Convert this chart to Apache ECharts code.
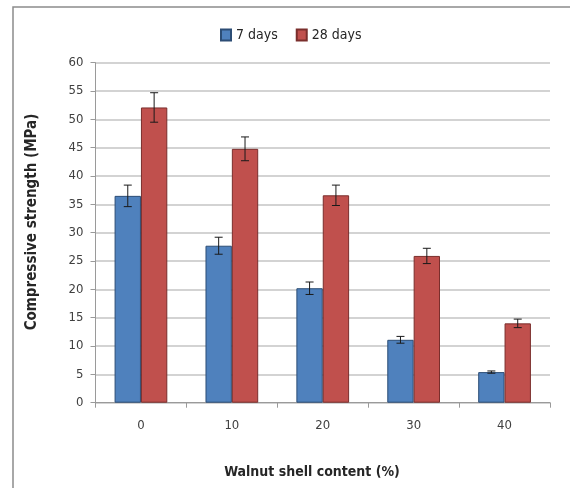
<!DOCTYPE html>
<html>
<head>
<meta charset="utf-8">
<script src="https://cdn.jsdelivr.net/npm/echarts@6/dist/echarts.min.js"></script>
<style>
html,body{margin:0;padding:0;background:#fff;}
#c{width:570px;height:488px;}
</style>
</head>
<body>
<div id="c"></div>
<script>
const categories = ['0', '10', '20', '30', '40'];
const days7 = [36.5, 27.7, 20.2, 11.1, 5.4];
const days28 = [52.1, 44.8, 36.6, 25.9, 14.0];
const err7 = [1.9, 1.5, 1.1, 0.6, 0.2];
const err28 = [2.6, 2.1, 1.8, 1.35, 0.75];
const yTicks = [0, 5, 10, 15, 20, 25, 30, 35, 40, 45, 50, 55, 60];

const FONT = '"Liberation Sans Narrow", "DejaVu Sans Condensed", "Liberation Sans", sans-serif';
const GAP = 0.42;

function errSeries(values, errs, sign) {
  return {
    type: 'custom',
    silent: true,
    z: 5,
    data: values.map((v, i) => [i, v - errs[i], v + errs[i]]),
    encode: { x: 0, y: [1, 2] },
    renderItem: function (params, api) {
      const band = api.size([1, 0])[0];
      const bw = band * (1 - GAP) / 2;
      const c = api.coord([api.value(0), 0]);
      const x = c[0] + sign * bw / 2;
      const lo = api.coord([api.value(0), api.value(1)])[1];
      const hi = api.coord([api.value(0), api.value(2)])[1];
      const cap = 4;
      const st = { stroke: '#1a1a1a', lineWidth: 1 };
      return {
        type: 'group',
        children: [
          { type: 'line', shape: { x1: x, y1: lo, x2: x, y2: hi }, style: st },
          { type: 'line', shape: { x1: x - cap, y1: lo, x2: x + cap, y2: lo }, style: st },
          { type: 'line', shape: { x1: x - cap, y1: hi, x2: x + cap, y2: hi }, style: st }
        ]
      };
    }
  };
}

const chart = echarts.init(document.getElementById('c'), null, { renderer: 'canvas' });
chart.setOption({
  backgroundColor: '#fff',
  animation: false,
  textStyle: { fontFamily: FONT },
  graphic: [
    { type: 'rect', shape: { x: 13, y: 7, width: 600, height: 520 }, style: { fill: 'none', stroke: '#8c8c8c', lineWidth: 1.5 }, z: -1 },
    { type: 'text', x: 32, y: 222, rotation: Math.PI / 2, style: { text: 'Compressive strength (MPa)', font: 'bold 15px ' + FONT, fill: '#262626', align: 'center', verticalAlign: 'middle' } },
    { type: 'text', x: 312, y: 472, style: { text: 'Walnut shell content (%)', font: 'bold 14px ' + FONT, fill: '#262626', align: 'center', verticalAlign: 'middle' } }
  ],
  legend: {
    left: 215,
    top: 23,
    icon: 'rect',
    itemWidth: 10,
    itemHeight: 11,
    itemGap: 18,
    textStyle: { fontSize: 14, color: '#262626', fontFamily: FONT },
    data: ['7 days', '28 days']
  },
  grid: { left: 95.5, right: 20, top: 62.7, bottom: 85.3, containLabel: false },
  xAxis: {
    type: 'category',
    data: categories,
    axisLine: { lineStyle: { color: '#9a9a9a', width: 1 } },
    axisTick: { show: true, length: 5, interval: 0, lineStyle: { color: '#9a9a9a' } },
    axisLabel: { margin: 16, fontSize: 13, color: '#404040', fontFamily: FONT },
    splitLine: { show: false }
  },
  yAxis: {
    type: 'value',
    min: 0,
    max: 60,
    interval: 5,
    axisLine: { show: true, lineStyle: { color: '#9a9a9a', width: 1 } },
    axisTick: { show: true, length: 5, lineStyle: { color: '#9a9a9a' } },
    axisLabel: {
      margin: 12, fontSize: 13, color: '#404040', fontFamily: FONT,
      formatter: function (v) { return yTicks.indexOf(v) >= 0 ? String(v) : ''; }
    },
    splitLine: { show: true, lineStyle: { color: '#c4c4c4', width: 1.5 } }
  },
  series: [
    {
      name: '7 days', type: 'bar', data: days7,
      barGap: '0%', barCategoryGap: (GAP * 100) + '%',
      itemStyle: { color: '#4F81BD', borderColor: '#2c4d75', borderWidth: 1 }
    },
    {
      name: '28 days', type: 'bar', data: days28,
      barGap: '0%', barCategoryGap: (GAP * 100) + '%',
      itemStyle: { color: '#C0504D', borderColor: '#7a2e2c', borderWidth: 1 }
    },
    errSeries(days7, err7, -1),
    errSeries(days28, err28, 1)
  ]
});
</script>
</body>
</html>
